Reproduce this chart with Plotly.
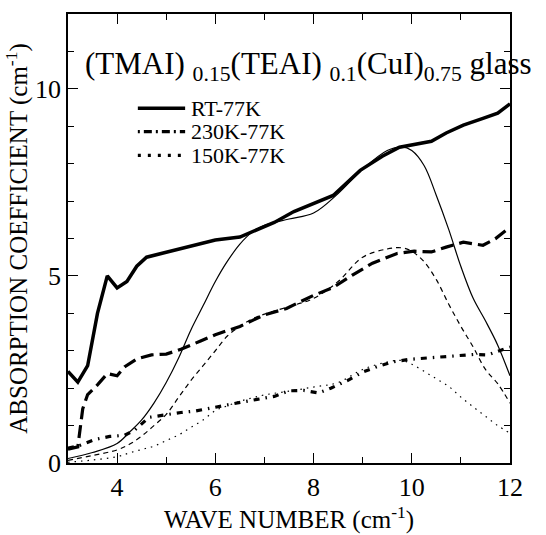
import plotly.graph_objects as go

# measured data
rt_x = [3.0, 3.2, 3.4, 3.6, 3.8, 4.0, 4.2, 4.4, 4.6, 4.9, 5.3, 5.7, 6.0, 6.5, 6.8, 7.2, 7.6, 8.1, 8.4,
        8.95, 9.4, 9.75, 10.05, 10.4, 10.7, 11.05, 11.45, 11.75, 12.0]
rt_y = [2.45, 2.16, 2.6, 4.0, 5.0, 4.68, 4.85, 5.26, 5.5, 5.6, 5.74, 5.87, 5.96, 6.04, 6.2, 6.43, 6.72,
        7.0, 7.15, 7.82, 8.2, 8.44, 8.51, 8.6, 8.82, 9.03, 9.21, 9.35, 9.6]

k230_x = [3.0, 3.2, 3.3, 3.4, 3.6, 3.8, 4.0, 4.15, 4.4, 4.7, 5.0, 5.3, 5.7, 6.0, 6.5, 7.0, 7.45, 8.0,
          8.4, 8.8, 9.2, 9.7, 10.05, 10.4, 10.7, 11.05, 11.45, 11.7, 12.0]
k230_y = [0.37, 0.43, 1.45, 1.83, 2.09, 2.39, 2.33, 2.57, 2.78, 2.89, 2.91, 3.04, 3.26, 3.43, 3.65,
          3.96, 4.13, 4.48, 4.69, 5.03, 5.34, 5.6, 5.66, 5.64, 5.77, 5.9, 5.82, 5.99, 6.3]

k150_x = [3.0, 3.2, 3.55, 3.85, 4.15, 4.35, 4.65, 5.0, 5.3, 5.6, 5.95, 6.25, 6.55, 6.85, 7.2, 7.5, 7.8,
          8.1, 8.35, 8.7, 9.0, 9.3, 9.6, 9.95, 10.25, 10.6, 10.9, 11.25, 11.55, 12.0]
k150_y = [0.4, 0.45, 0.63, 0.71, 0.74, 0.87, 1.22, 1.3, 1.35, 1.39, 1.48, 1.57, 1.63, 1.7, 1.78, 1.93,
          1.94, 1.87, 2.0, 2.21, 2.43, 2.58, 2.7, 2.77, 2.8, 2.83, 2.86, 2.9, 2.89, 3.1]

# fitted curves
fit_x = [3.0, 3.5, 4.0, 4.25, 4.5, 4.75, 5.0, 5.25, 5.5, 5.75, 6.0, 6.25, 6.5, 6.75, 7.0, 7.5, 8.0,
         8.5, 9.0, 9.5, 9.8, 10.0, 10.25, 10.5, 10.75, 11.0, 11.25, 11.5, 11.75, 12.0]
fit_rt = [0.12, 0.28, 0.52, 0.82, 1.15, 1.6, 2.15, 2.8, 3.55, 4.2, 4.85, 5.4, 5.85, 6.17, 6.35, 6.52,
          6.68, 7.2, 7.85, 8.35, 8.45, 8.35, 7.95, 7.15, 6.25, 5.25, 4.4, 3.8, 3.15, 2.33]
fit_230 = [0.07, 0.2, 0.35, 0.5, 0.72, 1.0, 1.3, 1.75, 2.2, 2.6, 3.0, 3.4, 3.65, 3.85, 3.98, 4.18,
           4.4, 4.85, 5.5, 5.72, 5.75, 5.66, 5.38, 4.9, 4.25, 3.65, 3.1, 2.5, 2.12, 1.6]
fit_150 = [0.02, 0.08, 0.17, 0.27, 0.36, 0.45, 0.6, 0.75, 0.95, 1.15, 1.4, 1.53, 1.65, 1.74, 1.82,
           1.92, 2.03, 2.15, 2.5, 2.7, 2.74, 2.64, 2.45, 2.25, 2.05, 1.76, 1.5, 1.25, 1.0, 0.8]

labels = ["RT-77K", "230K-77K", "150K-77K"]
x_ticks = [4, 6, 8, 10, 12]
y_ticks = [0, 5, 10]

FONT = "Liberation Serif, Times New Roman, serif"

fig = go.Figure()
fig.add_trace(go.Scatter(x=rt_x, y=rt_y, mode="lines", name=labels[0], showlegend=False,
                         line=dict(color="black", width=3.5)))
fig.add_trace(go.Scatter(x=k230_x, y=k230_y, mode="lines", name=labels[1], showlegend=False,
                         line=dict(color="black", width=3.2, dash="13px,6px")))
fig.add_trace(go.Scatter(x=k150_x, y=k150_y, mode="lines", name=labels[2], showlegend=False,
                         line=dict(color="black", width=3.2, dash="6px,6px,1.5px,6px")))
fig.add_trace(go.Scatter(x=fit_x, y=fit_rt, mode="lines", showlegend=False,
                         line=dict(color="black", width=1.2, shape="spline")))
fig.add_trace(go.Scatter(x=fit_x, y=fit_230, mode="lines", showlegend=False,
                         line=dict(color="black", width=1.2, shape="spline", dash="5px,4px")))
fig.add_trace(go.Scatter(x=fit_x, y=fit_150, mode="lines", showlegend=False,
                         line=dict(color="black", width=1.2, shape="spline", dash="1.5px,5px")))

# legend (key samples + labels) drawn in paper space
legend_rows_y = [0.790, 0.738, 0.685]
legend_styles = [dict(width=3.5, dash="solid"),
                 dict(width=3.2, dash="2px,4px,8px,4px"),
                 dict(width=3.2, dash="3px,7px")]
for lab, yy, st in zip(labels, legend_rows_y, legend_styles):
    fig.add_shape(type="line", xref="paper", yref="paper", x0=0.158, x1=0.265, y0=yy, y1=yy,
                  line=dict(color="black", **st))
    fig.add_annotation(xref="paper", yref="paper", x=0.274, y=yy, xanchor="left", yanchor="middle",
                       text=lab, showarrow=False, font=dict(family=FONT, size=22, color="black"))

axis_common = dict(showline=True, linecolor="black", linewidth=1.5, mirror="allticks",
                   ticks="inside", ticklen=10, tickwidth=1.2, tickcolor="black",
                   showgrid=False, zeroline=False,
                   tickfont=dict(family=FONT, size=26, color="black"))

fig.update_xaxes(range=[3, 12], tickvals=x_ticks,
                 minor=dict(dtick=1, tick0=3, ticks="inside", ticklen=6, tickcolor="black"),
                 title=dict(text="WAVE NUMBER (cm<sup>-1</sup>)", font=dict(family=FONT, size=25, color="black"),
                            standoff=4),
                 **axis_common)
fig.update_yaxes(range=[0, 12], tickvals=y_ticks,
                 minor=dict(dtick=1, tick0=0, ticks="inside", ticklen=6, tickcolor="black"),
                 title=dict(text="ABSORPTION COEFFICIENT (cm<sup>-1</sup>)",
                            font=dict(family=FONT, size=25, color="black"), standoff=0),
                 **axis_common)

fig.add_annotation(xref="paper", yref="paper", x=0.035, y=0.885, xanchor="left", yanchor="middle",
                   text="(TMAI) <sub>0.15</sub>(TEAI) <sub>0.1</sub>(CuI)<sub>0.75</sub> glass",
                   showarrow=False, font=dict(family=FONT, size=31, color="black"))

fig.update_layout(
    width=546, height=535,
    margin=dict(l=68, r=36, t=14, b=61),
    paper_bgcolor="white", plot_bgcolor="white",
    showlegend=False,
)

fig.write_html("out.html")
